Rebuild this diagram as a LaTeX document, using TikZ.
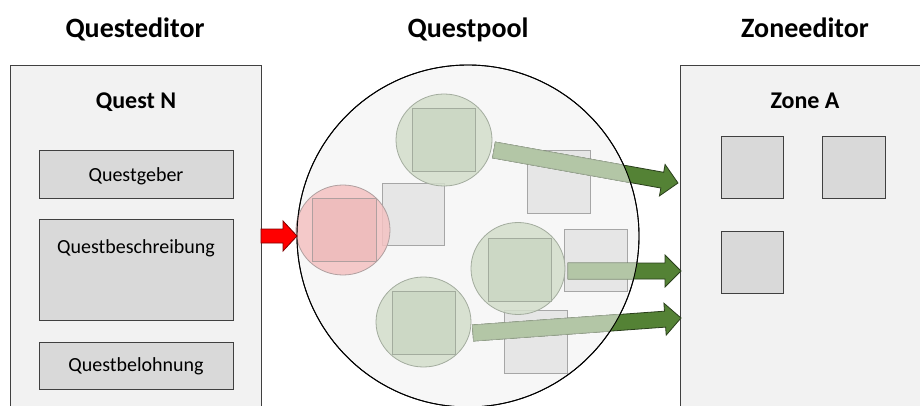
\documentclass[tikz,border=0pt]{standalone}
\usepackage{fontspec}
\setmainfont{Carlito}
\usetikzlibrary{calc}
\definecolor{panelfill}{HTML}{F2F2F2}
\definecolor{panelline}{HTML}{404040}
\definecolor{boxfill}{HTML}{D9D9D9}
\definecolor{poolfill}{HTML}{F7F7F7}
\definecolor{lightsq}{HTML}{E6E6E6}
\definecolor{lightsqline}{HTML}{A6A6A6}
\definecolor{greenfill}{HTML}{D3DECB}
\definecolor{greensq}{HTML}{CBD7C3}
\definecolor{greenline}{HTML}{A3AC9E}
\definecolor{pinkfill}{HTML}{F4C2C2}
\definecolor{pinksq}{HTML}{EDBCBC}
\definecolor{pinkline}{HTML}{B0A0A0}
\definecolor{darkgreen}{HTML}{548235}
\definecolor{darkgreenline}{HTML}{2A3F1C}
\definecolor{lightgreen}{HTML}{B3C6A6}
\definecolor{lightgreenline}{HTML}{A4B09C}
\newcommand{\blockarr}[6][]{%
  \coordinate (hb) at ($(#3)!#6!(#2)$);
  \filldraw[#1] ($(#2)!#4!90:(#3)$) -- ($(hb)!#4!-90:(#2)$) -- ($(hb)!#5!-90:(#2)$) -- (#3) -- ($(hb)!#5!90:(#2)$) -- ($(hb)!#4!90:(#2)$) -- ($(#2)!#4!-90:(#3)$) -- cycle;
}
\begin{document}
\begin{tikzpicture}[x=1pt,y=-1pt,
  panel/.style={draw=panelline,fill=panelfill,line width=0.8pt},
  fieldbox/.style={draw=panelline,fill=boxfill,line width=0.8pt},
  title/.style={font=\fontsize{28}{30}\selectfont\bfseries,anchor=base,inner sep=0pt},
  subtitle/.style={font=\fontsize{24}{26}\selectfont\bfseries,anchor=base,inner sep=0pt},
  label/.style={font=\fontsize{20}{22}\selectfont,anchor=base,inner sep=0pt},
  lsq/.style={draw=lightsqline,fill=lightsq,line width=0.8pt},
  gcirc/.style={draw=greenline,fill=greenfill,fill opacity=0.85,line width=0.8pt},
  gsq/.style={draw=greenline,fill=greensq,fill opacity=0.85,line width=0.8pt},
  pcirc/.style={draw=pinkline,fill=pinkfill,fill opacity=0.85,line width=0.8pt},
  psq/.style={draw=pinkline,fill=pinksq,fill opacity=0.85,line width=0.8pt},
  darrow/.style={fill=darkgreen,draw=darkgreenline,line width=0.8pt,line join=miter},
  larrow/.style={fill=lightgreen,draw=lightgreenline,line width=0.8pt,line join=miter},
  rarrow/.style={fill=red,draw=red!50!black,line width=0.8pt,line join=miter}]
\useasboundingbox (0,0) rectangle (920,406);
\clip (0,0) rectangle (920,406);
\fill[white] (0,0) rectangle (920,406);

% titles
\node[title] (t1) at (135,38) {Questeditor};
\node[title] (t2) at (468,38) {Questpool};
\node[title] (t3) at (805,38) {Zoneeditor};

% left panel
\draw[panel] (10,65) rectangle (261,420);
\coordinate (leftpanel) at (261,236);
\node[subtitle] (questn) at (136,109) {Quest N};
\draw[fieldbox] (39,150) rectangle (233,198);
\node[label] (geber) at (136,181.5) {Questgeber};
\draw[fieldbox] (39,219) rectangle (233,320);
\node[label] (beschr) at (136,253.5) {Questbeschreibung};
\draw[fieldbox] (39,342) rectangle (233,389);
\node[label] (belohn) at (136,371.5) {Questbelohnung};

% right panel
\draw[panel] (680,65) rectangle (930,420);
\node[subtitle] (zonea) at (805,109) {Zone A};
\draw[fieldbox] (721,136) rectangle (783,198);
\draw[fieldbox] (822,136) rectangle (885,198);
\draw[fieldbox] (721,231) rectangle (783,293);

% pool
\draw[fill=poolfill,line width=0.9pt] (468,236) ellipse [x radius=171, y radius=171];
\coordinate (poolwest) at (297,236);

\draw[lsq] (382,183) rectangle (444,245);
\draw[lsq] (527,150) rectangle (590,213);
\draw[lsq] (564,229) rectangle (627,291);
\draw[lsq] (504,310) rectangle (567,373);

% red quest
\draw[pcirc] (343,230) ellipse [x radius=47, y radius=45];
\draw[psq] (312,198) rectangle (376,261);
% green quests
\draw[gcirc] (444,140) ellipse [x radius=48, y radius=46];
\draw[gsq] (412,108) rectangle (475,171);
\draw[gcirc] (518,268.5) ellipse [x radius=47, y radius=46];
\draw[gsq] (488,238) rectangle (551,301);
\draw[gcirc] (423.5,322) ellipse [x radius=47.5, y radius=45];
\draw[gsq] (392,291) rectangle (455,354);

% arrow end points
\coordinate (a1s) at (494,150);
\coordinate (a1e) at (678,183);
\coordinate (a2s) at (568,271);
\coordinate (a2e) at (681,271);
\coordinate (a3s) at (473,333);
\coordinate (a3e) at (681,318);

\blockarr[darrow]{a1s}{a1e}{8pt}{16pt}{16pt}
\blockarr[darrow]{a2s}{a2e}{8pt}{16pt}{16pt}
\blockarr[darrow]{a3s}{a3e}{8pt}{16pt}{16pt}
\begin{scope}
  \clip (468,236) ellipse [x radius=170.5, y radius=170.5];
  \blockarr[larrow]{a1s}{a1e}{8pt}{16pt}{16pt}
  \blockarr[larrow]{a2s}{a2e}{8pt}{16pt}{16pt}
  \blockarr[larrow]{a3s}{a3e}{8pt}{16pt}{16pt}
\end{scope}
\draw[line width=0.9pt] (468,236) ellipse [x radius=171, y radius=171];

% red arrow
\blockarr[rarrow]{leftpanel}{poolwest}{7pt}{15pt}{14pt}
\end{tikzpicture}
\end{document}
